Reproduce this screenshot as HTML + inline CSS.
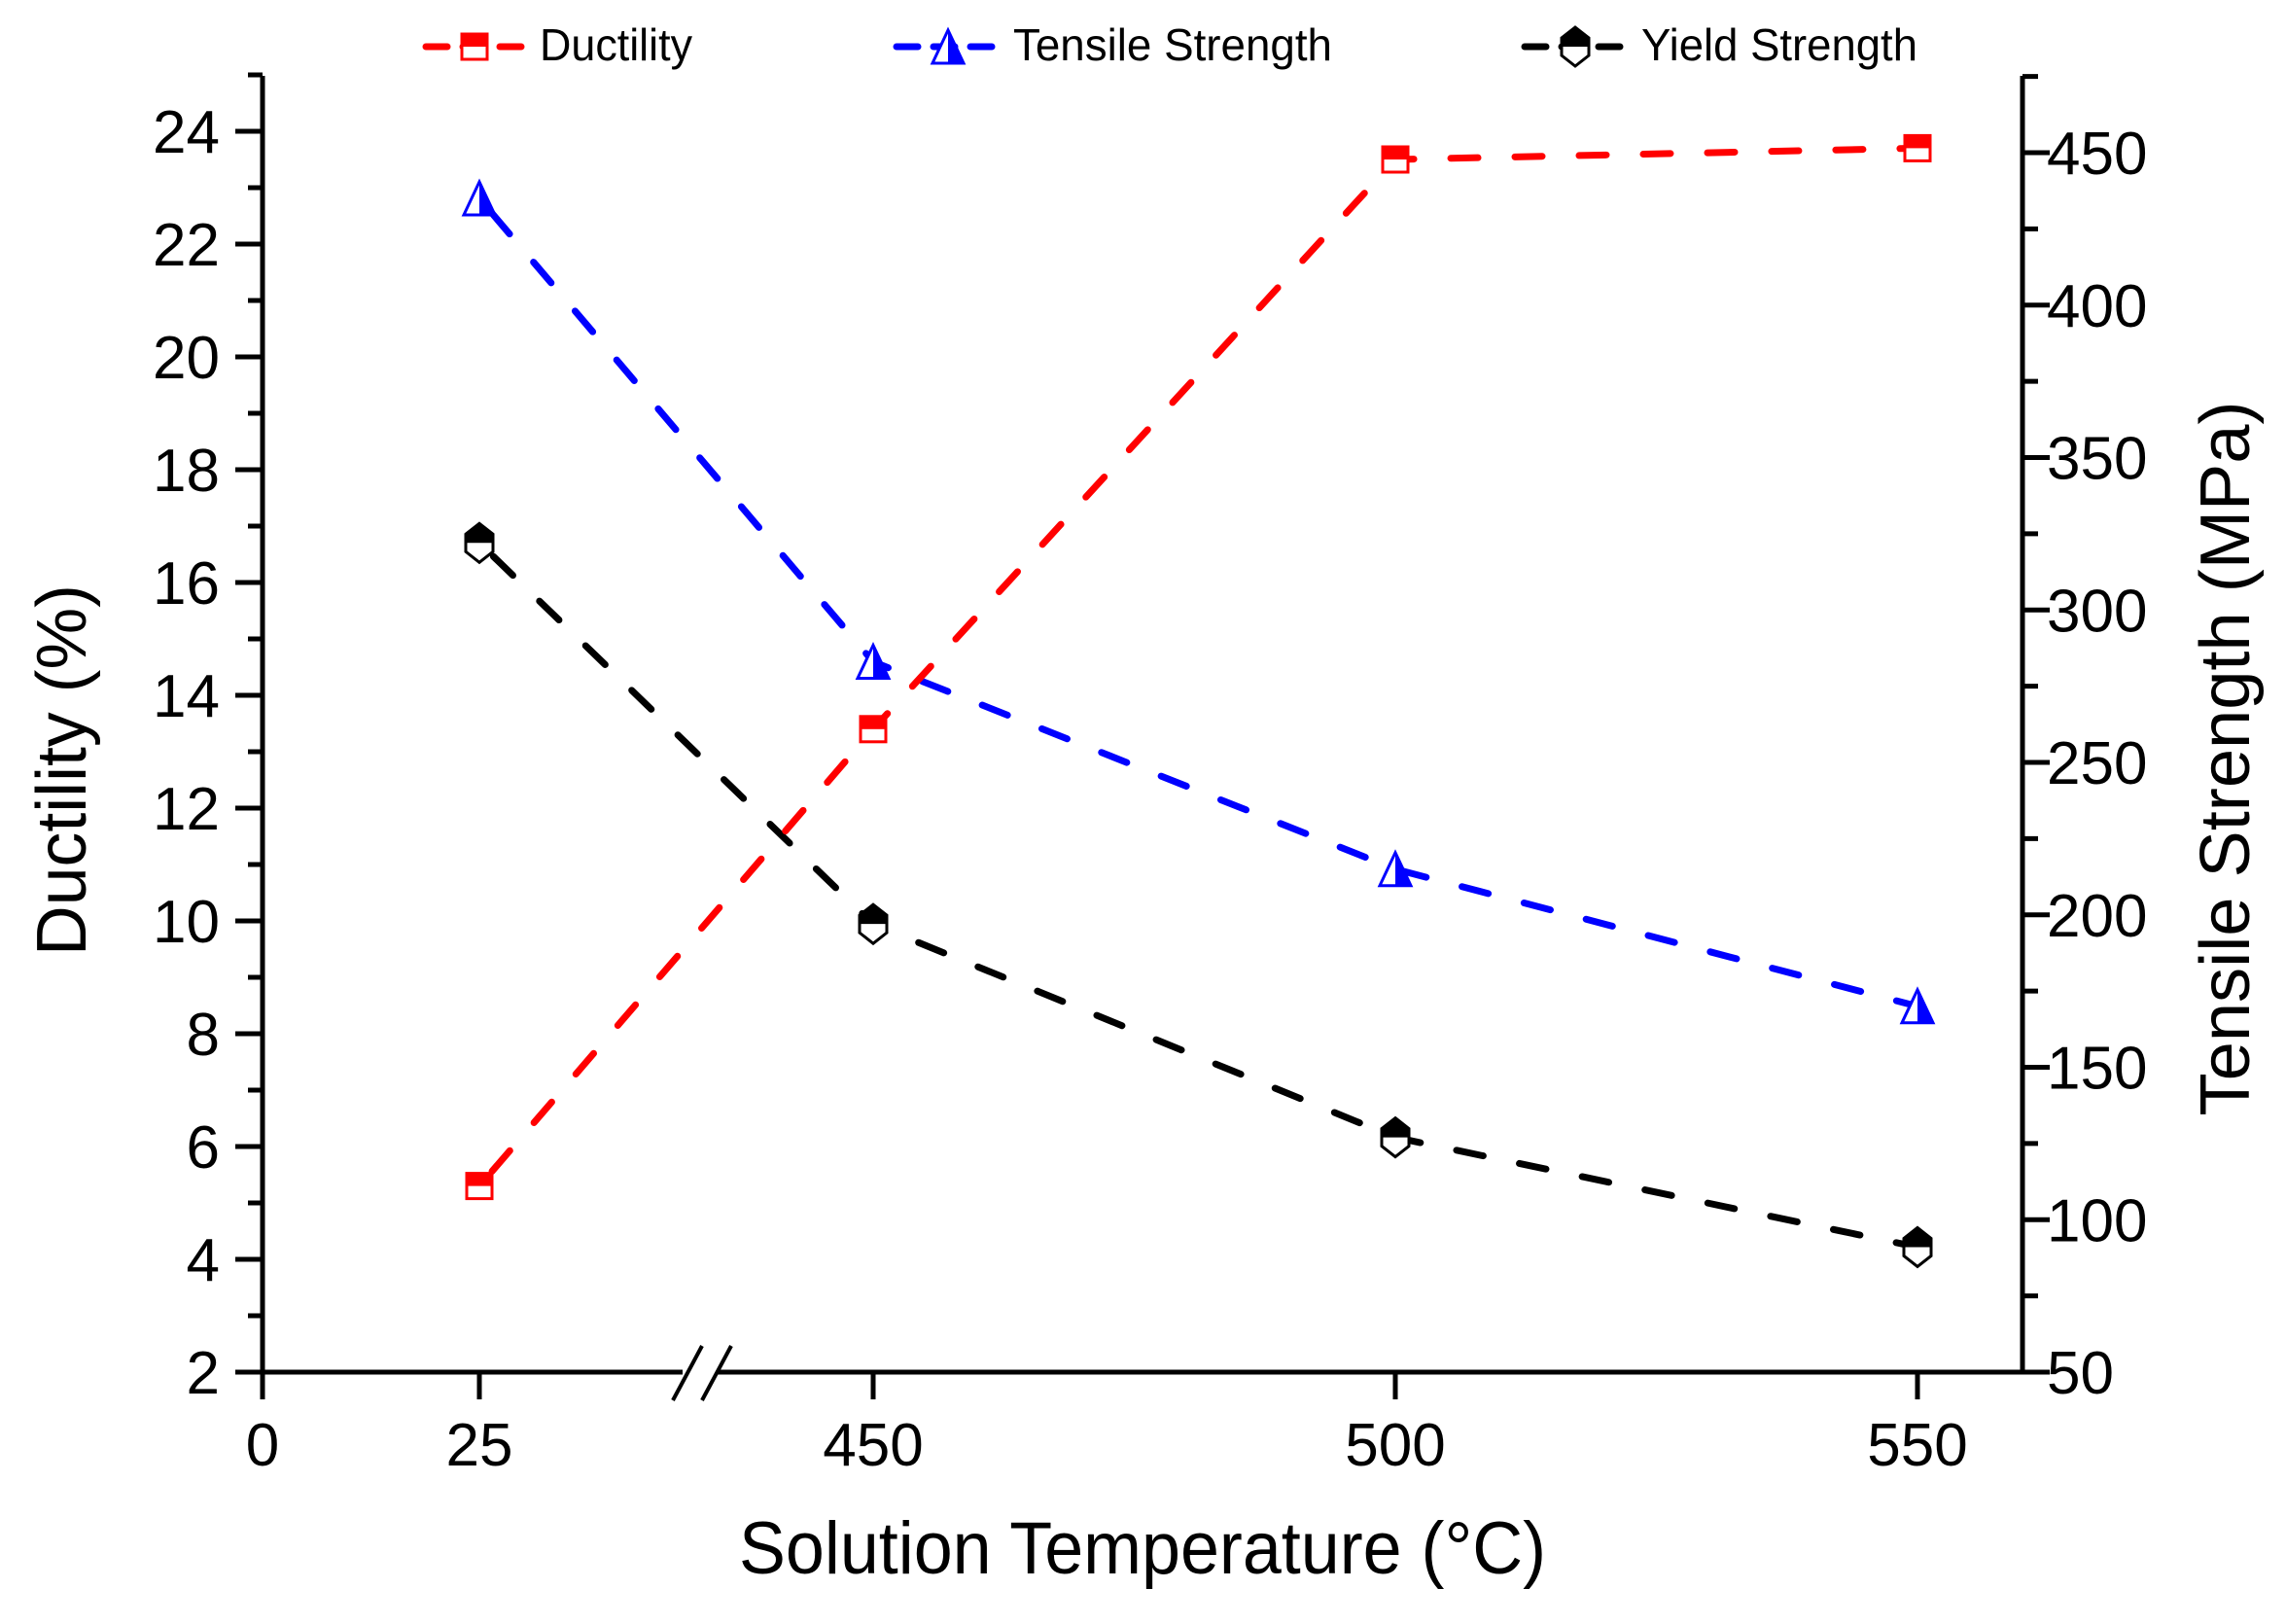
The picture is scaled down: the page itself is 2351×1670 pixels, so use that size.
<!DOCTYPE html>
<html><head><meta charset="utf-8"><style>
html,body{margin:0;padding:0;background:#fff}
svg{display:block}
text{font-family:"Liberation Sans",Arial,sans-serif;fill:#000}
</style></head><body>
<svg id="chart" width="2351" height="1670" viewBox="0 0 2351 1670" xmlns="http://www.w3.org/2000/svg">
<g id="axes"></g>
<g id="series"></g>
<g id="legend"></g>
<text x="1175" y="1618" font-size="76" text-anchor="middle" textLength="830" lengthAdjust="spacingAndGlyphs">Solution Temperature (°C)</text>
<text transform="translate(88,792) rotate(-90)" font-size="72" text-anchor="middle" textLength="382" lengthAdjust="spacingAndGlyphs">Ductility (%)</text>
<text transform="translate(2313,780) rotate(-90)" font-size="72" text-anchor="middle" textLength="735" lengthAdjust="spacingAndGlyphs">Tensile Strength (MPa)</text>
</svg>
<script>
const categories = [25, 450, 500, 550];
const ductility = [5.3, 13.4, 23.5, 23.7];
const tensile = [435, 283, 215, 170];
const yieldStr = [322, 197, 127, 91];
const xTicks = [0, 25, 450, 500, 550];
const leftTicks = [2,4,6,8,10,12,14,16,18,20,22,24];
const rightTicks = [50,100,150,200,250,300,350,400,450];

const NS = "http://www.w3.org/2000/svg";
const X0 = 270, XR = 2080, YB = 1411, YT = 78;
function xs(v){ return v <= 100 ? 270 + v*(493-270)/25 : 898 + (v-450)*(1972-898)/100; }
function yl(v){ return YB - (v-2)*58; }
function yr(v){ return YB - (v-50)*(YB-157)/400; }
function mk(tag, attrs, parent){ const e=document.createElementNS(NS,tag); for(const k in attrs) e.setAttribute(k,attrs[k]); parent.appendChild(e); return e; }

const axes = document.getElementById('axes');
const lw = 5;
let e = mk('line',{x1:X0,y1:YT,x2:X0,y2:YB+28,stroke:'#000','stroke-width':lw},axes);
 
e = mk('line',{x1:XR,y1:YT,x2:XR,y2:YB,stroke:'#000','stroke-width':lw},axes);
 
e = mk('line',{x1:244,y1:YB,x2:702,y2:YB,stroke:'#000','stroke-width':lw},axes);
 
e = mk('line',{x1:738,y1:YB,x2:2100,y2:YB,stroke:'#000','stroke-width':lw},axes);
 
e = mk('line',{x1:692,y1:1440,x2:722,y2:1384,stroke:'#000','stroke-width':4},axes);
 
e = mk('line',{x1:722,y1:1440,x2:752,y2:1384,stroke:'#000','stroke-width':4},axes);
 

xTicks.forEach(v=>{
  const x = xs(v);
  const t = mk('line',{x1:x,y1:YB,x2:x,y2:YB+28,stroke:'#000','stroke-width':lw},axes);
   
  const l = mk('text',{x:x,y:1507,'font-size':62,'text-anchor':'middle'},axes);
  l.textContent = v;
   
});
for(let v=3; v<=25; v+=2){
  const t = mk('line',{x1:X0-15,y1:yl(v),x2:X0,y2:yl(v),stroke:'#000','stroke-width':lw},axes);
   
}
leftTicks.forEach(v=>{
  const y = yl(v);
  const t = mk('line',{x1:X0-28,y1:y,x2:X0,y2:y,stroke:'#000','stroke-width':lw},axes);
   
  const l = mk('text',{x:226,y:y+22,'font-size':62,'text-anchor':'end'},axes);
  l.textContent = v;
   
});
for(let v=75; v<=475; v+=50){
  const t = mk('line',{x1:XR,y1:yr(v),x2:XR+16,y2:yr(v),stroke:'#000','stroke-width':lw},axes);
   
}
rightTicks.forEach(v=>{
  const y = yr(v);
  const t = mk('line',{x1:XR,y1:y,x2:XR+28,y2:y,stroke:'#000','stroke-width':lw},axes);
   
  const l = mk('text',{x:2105,y:y+22,'font-size':62,'text-anchor':'start'},axes);
  l.textContent = v;
   
});

function marker(kind, cx, cy, color, parent){
  const g = mk('g',{},parent);
  if(kind==='square'){
    const s=13;
    mk('rect',{x:cx-s,y:cy-s,width:2*s,height:2*s,fill:'#fff',stroke:color,'stroke-width':3},g);
    mk('rect',{x:cx-s,y:cy-s,width:2*s,height:s,fill:color},g);
  } else if(kind==='tri'){
    const h=17,w=16;
    mk('polygon',{points:`${cx},${cy-h} ${cx+w},${cy+h} ${cx-w},${cy+h}`,fill:'#fff',stroke:color,'stroke-width':3},g);
    mk('polygon',{points:`${cx},${cy-h} ${cx+w},${cy+h} ${cx},${cy+h}`,fill:color},g);
  } else {
    const w=14,h=20,s=9;
    mk('polygon',{points:`${cx},${cy-h} ${cx+w},${cy-s} ${cx+w},${cy+s} ${cx},${cy+h} ${cx-w},${cy+s} ${cx-w},${cy-s}`,fill:'#fff',stroke:color,'stroke-width':3},g);
    mk('polygon',{points:`${cx},${cy-h} ${cx+w},${cy-s} ${cx+w},${cy} ${cx-w},${cy} ${cx-w},${cy-s}`,fill:color},g);
  }
  return g;
}

const seriesG = document.getElementById('series');
function drawSeries(vals, yfn, color, kind, name){
  const pts = vals.map((v,i)=>[xs(categories[i]), yfn(v)]);
  const p = mk('polyline',{points:pts.map(p=>p.join(',')).join(' '),fill:'none',stroke:color,'stroke-width':7,'stroke-dasharray':'28 38','stroke-linecap':'round','stroke-dashoffset':-20},seriesG);
   
  pts.forEach(pt=>{
    const m = marker(kind, pt[0], pt[1], color, seriesG);
     
  });
}
drawSeries(tensile, yr, '#0000ff', 'tri', 'tensile-strength');
drawSeries(yieldStr, yr, '#000', 'hex', 'yield-strength');
drawSeries(ductility, yl, '#ff0000', 'square', 'ductility');

const lg = document.getElementById('legend');
[['Ductility','#ff0000','square',438,540,488,555,157],
 ['Tensile Strength','#0000ff','tri',922,1027,975,1042,328],
 ['Yield Strength','#000','hex',1568,1672,1620,1688,284]].forEach(d=>{
  const g = mk('g',{},lg);
   
  mk('line',{x1:d[3],y1:48,x2:d[4],y2:48,stroke:d[1],'stroke-width':7,'stroke-dasharray':'22 16','stroke-linecap':'round'},g);
  marker(d[2], d[5], 48, d[1], g);
  const t = mk('text',{x:d[6],y:62,'font-size':46,textLength:d[7],lengthAdjust:'spacingAndGlyphs'},g);
  t.textContent = d[0];
   
});
</script>
</body></html>
